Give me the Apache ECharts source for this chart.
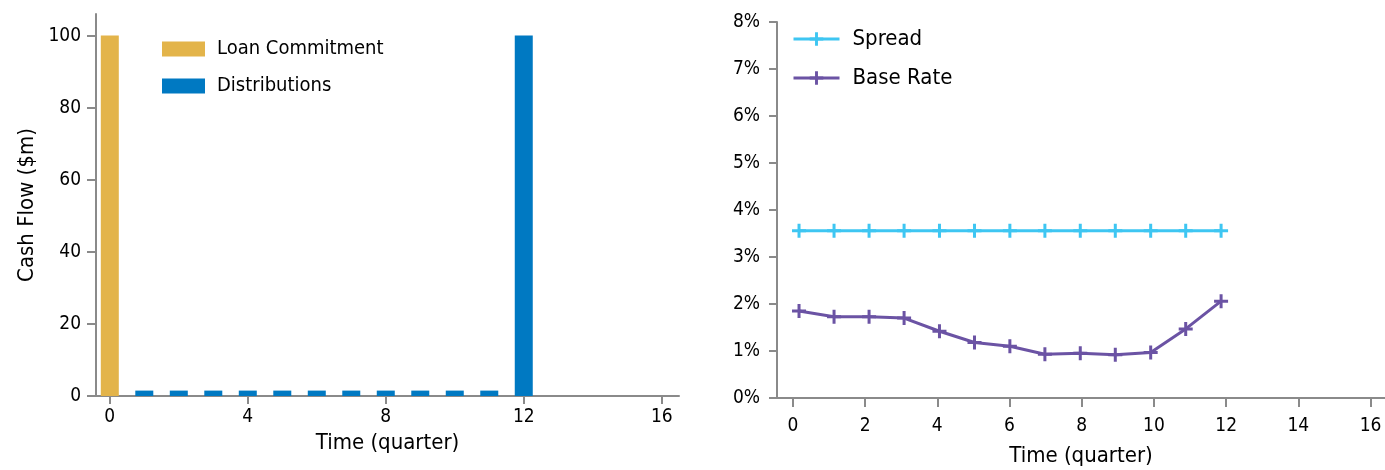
<!DOCTYPE html>
<html>
<head>
<meta charset="utf-8">
<script src="https://cdn.jsdelivr.net/npm/echarts@6/dist/echarts.min.js"></script>
<style>
  html, body { margin: 0; padding: 0; background: #ffffff; }
  #chart { width: 1385px; height: 470px; }
</style>
</head>
<body>
<div id="chart"></div>
<script>
// Left panel: loan cash flows by quarter
const loanQuarters = [0];
const loanCommitment = [100];
const distQuarters = [1, 2, 3, 4, 5, 6, 7, 8, 9, 10, 11, 12];
const distributions = [1.5, 1.5, 1.5, 1.5, 1.5, 1.5, 1.5, 1.5, 1.5, 1.5, 1.5, 100];
const cashTicksX = [0, 4, 8, 12, 16];
const cashTicksY = [0, 20, 40, 60, 80, 100];

// Right panel: interest rate components by quarter
const rateTimes = [0.17, 1.14, 2.11, 3.08, 4.06, 5.03, 6.01, 6.98, 7.96, 8.93, 9.91, 10.88, 11.86];
const spread = [3.56, 3.56, 3.56, 3.56, 3.56, 3.56, 3.56, 3.56, 3.56, 3.56, 3.56, 3.56, 3.56];
const baseRate = [1.85, 1.73, 1.73, 1.70, 1.42, 1.18, 1.10, 0.93, 0.95, 0.92, 0.97, 1.47, 2.06];
const rateTicksX = [0, 2, 4, 6, 8, 10, 12, 14, 16];
const rateTicksY = [0, 1, 2, 3, 4, 5, 6, 7, 8];

const FONT = "'DejaVu Sans Condensed', 'Liberation Sans Narrow', 'Liberation Sans', sans-serif";
const AXIS_GREY = '#8a8a8a';
const TEXT = '#000000';
const PLUS = 'path://M5.5,0H8.5V5.5H14V8.5H8.5V14H5.5V8.5H0V5.5H5.5Z';

const zip = (xs, ys) => xs.map((x, i) => [x, ys[i]]);

const axisCommon = {
  axisLine: { show: true, onZero: false, lineStyle: { color: AXIS_GREY, width: 2 } },
  splitLine: { show: false },
  nameTextStyle: { color: TEXT, fontFamily: FONT, fontSize: 22 },
};

const chart = echarts.init(document.getElementById('chart'), null, { renderer: 'canvas' });

chart.setOption({
  animation: false,
  textStyle: { fontFamily: FONT, color: TEXT },
  grid: [
    { left: 96, top: 14, width: 583, height: 382, containLabel: false, outerBoundsMode: 'none' },
    { left: 777, top: 22, width: 608, height: 376, containLabel: false, outerBoundsMode: 'none' }
  ],
  legend: [
    {
      orient: 'vertical', left: 162, top: 39, padding: 0,
      icon: 'rect', itemWidth: 43, itemHeight: 15, itemGap: 17,
      textStyle: { color: TEXT, fontFamily: FONT, fontSize: 20, padding: [0, 0, 0, 7] },
      data: ['Loan Commitment', 'Distributions']
    },
    {
      orient: 'vertical', left: 792, top: 28, padding: 0,
      itemWidth: 46, itemHeight: 17, itemGap: 17,
      lineStyle: { width: 3 },
      textStyle: { color: TEXT, fontFamily: FONT, fontSize: 22, padding: [0, 0, 0, 8] },
      data: ['Spread', 'Base Rate']
    }
  ],
  xAxis: [
    Object.assign({}, axisCommon, {
      gridIndex: 0, type: 'value', min: -0.4, max: 16.5,
      name: 'Time (quarter)', nameLocation: 'middle', nameGap: 31,
      axisTick: { show: true, length: 8, customValues: cashTicksX, lineStyle: { color: AXIS_GREY, width: 2 } },
      axisLabel: { customValues: cashTicksX, color: TEXT, fontSize: 19, margin: 12 }
    }),
    Object.assign({}, axisCommon, {
      gridIndex: 1, type: 'value', min: -0.44, max: 16.4,
      name: 'Time (quarter)', nameLocation: 'middle', nameGap: 47,
      axisTick: { show: true, length: 9, customValues: rateTicksX, lineStyle: { color: AXIS_GREY, width: 2 } },
      axisLabel: { customValues: rateTicksX, color: TEXT, fontSize: 19, margin: 19 }
    })
  ],
  yAxis: [
    Object.assign({}, axisCommon, {
      gridIndex: 0, type: 'value', min: 0, max: 106,
      name: 'Cash Flow ($m)', nameLocation: 'middle', nameGap: 58,
      axisTick: { show: true, length: 9, customValues: cashTicksY, lineStyle: { color: AXIS_GREY, width: 2 } },
      axisLabel: { customValues: cashTicksY, color: TEXT, fontSize: 19, margin: 15 }
    }),
    Object.assign({}, axisCommon, {
      gridIndex: 1, type: 'value', min: 0, max: 8,
      axisTick: { show: true, length: 8, customValues: rateTicksY, lineStyle: { color: AXIS_GREY, width: 2 } },
      axisLabel: { customValues: rateTicksY, color: TEXT, fontSize: 19, margin: 17, formatter: '{value}%' }
    })
  ],
  series: [
    {
      name: 'Loan Commitment', type: 'bar', xAxisIndex: 0, yAxisIndex: 0, stack: 'cash',
      barWidth: 18, itemStyle: { color: '#E3B44A' },
      data: zip(loanQuarters, loanCommitment)
    },
    {
      name: 'Distributions', type: 'bar', xAxisIndex: 0, yAxisIndex: 0, stack: 'cash',
      barWidth: 18, itemStyle: { color: '#0079C2' },
      data: zip(distQuarters, distributions)
    },
    {
      name: 'Spread', type: 'line', xAxisIndex: 1, yAxisIndex: 1,
      symbol: PLUS, symbolSize: 14, showAllSymbol: true,
      lineStyle: { color: '#3EC6F2', width: 3 }, itemStyle: { color: '#3EC6F2' },
      data: zip(rateTimes, spread)
    },
    {
      name: 'Base Rate', type: 'line', xAxisIndex: 1, yAxisIndex: 1,
      symbol: PLUS, symbolSize: 14, showAllSymbol: true,
      lineStyle: { color: '#6B53A4', width: 3 }, itemStyle: { color: '#6B53A4' },
      data: zip(rateTimes, baseRate)
    }
  ]
});
</script>
</body>
</html>
